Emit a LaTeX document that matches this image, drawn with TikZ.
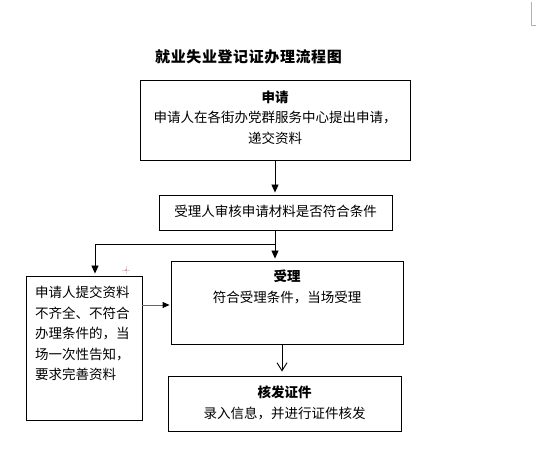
\documentclass[tikz,border=0pt]{standalone}
\usepackage{fontspec}
\setmainfont{Noto Sans CJK SC}
\usetikzlibrary{arrows.meta}
\tikzset{
  box/.style={draw=black, line width=0.9pt, inner sep=0pt},
  txt/.style={inner sep=0pt, align=center, font=\fontsize{13.5}{20.5}\selectfont},
  arr/.style={line width=0.9pt, -{Triangle[length=8pt,width=7pt]}, shorten >=2pt},
  varr/.style={line width=0.9pt, -{Straight Barb[length=8pt,width=10pt]}, shorten >=4pt},
}
\begin{document}
\begin{tikzpicture}[x=1pt,y=-1pt]
\useasboundingbox (0,0) rectangle (536,462);
\fill[white] (0,0) rectangle (536,462);
% title
\node[inner sep=0pt, font=\fontsize{15}{15}\selectfont\bfseries] (title) at (248.5,57)
  {就\kern0.6pt 业\kern0.6pt 失\kern0.6pt 业\kern0.6pt 登\kern0.6pt 记\kern0.6pt 证\kern0.6pt 办\kern0.6pt 理\kern0.6pt 流\kern0.6pt 程\kern0.6pt 图};
% boxes
\node[box, minimum width=270pt, minimum height=80pt] (b1) at (275,120) {};
\node[txt] (t1) at (275,117.5) {\textbf{申请}\\申请人在各街办党群服务中心提出申请，\\递交资料};
\node[box, minimum width=233pt, minimum height=35pt] (b2) at (275.5,212.5) {};
\node[txt] (t2) at (275.5,211) {受理人审核申请材料是否符合条件};
\node[box, minimum width=232pt, minimum height=83pt] (b3) at (287,302.5) {};
\node[txt] (t3) at (287,287) {\textbf{受理}\\符合受理条件，当场受理};
\node[box, minimum width=116pt, minimum height=144pt] (b5) at (84,348) {};
\node[txt, align=left, anchor=west] (t5) at (35,333.5) {申请人提交资料\\不齐全、不符合\\办理条件的，当\\场一次性告知，\\要求完善资料};
\node[box, minimum width=233pt, minimum height=55pt] (b4) at (284.5,403.5) {};
\node[txt] (t4) at (284.5,403) {\textbf{核发证件}\\录入信息，并进行证件核发};
% connectors
\coordinate (br) at (275,244);
\draw[arr] (b1.south -| br) -- (b2.north -| br);
\draw[arr] (b2.south -| br) -- (b3.north -| br);
\draw[arr] (br) -| ([xshift=11pt]b5.north);
\draw[line width=0.9pt, draw=black!60, -{Triangle[length=7pt,width=6pt,fill=black,color=black]}, shorten >=1pt] (b5.east |- 0,305) -- (b3.west |- 0,305);
\draw[varr] (b3.south -| 282,0) -- (b4.north -| 282,0);
% marks
\draw[black!30, line width=0.8pt] (531,2) -- (531,25) -- (536,25);
\draw[black!15, line width=0.8pt] (122,270) -- (130,270) (126,266) -- (126,274);
\fill[red!60] (126,270) circle (0.8);
\end{tikzpicture}
\end{document}
